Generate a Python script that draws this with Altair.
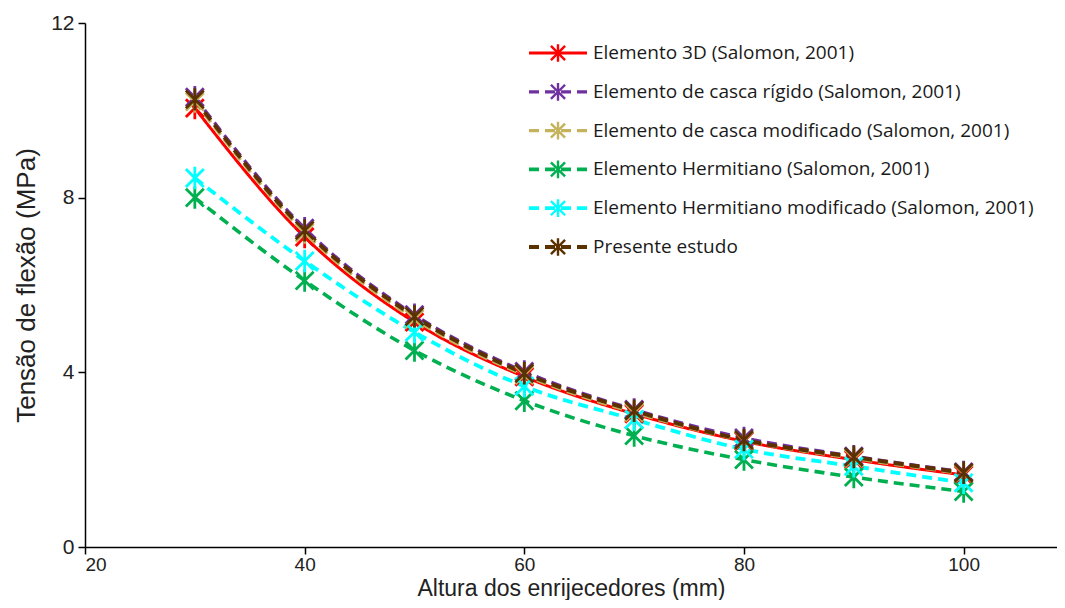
import altair as alt
import pandas as pd

# ---- data ----
altura = [30, 40, 50, 60, 70, 80, 90, 100]
series_names = [
    "Elemento 3D (Salomon, 2001)",
    "Elemento de casca rígido (Salomon, 2001)",
    "Elemento de casca modificado (Salomon, 2001)",
    "Elemento Hermitiano (Salomon, 2001)",
    "Elemento Hermitiano modificado (Salomon, 2001)",
    "Presente estudo",
]
elem_3d = [10.05, 7.10, 5.15, 3.90, 3.05, 2.42, 2.00, 1.65]
casca_rigido = [10.30, 7.30, 5.32, 4.02, 3.15, 2.50, 2.08, 1.72]
casca_modificado = [10.20, 7.20, 5.22, 3.94, 3.08, 2.44, 2.03, 1.68]
hermitiano = [8.00, 6.10, 4.50, 3.35, 2.55, 2.00, 1.60, 1.27]
hermitiano_mod = [8.45, 6.55, 4.92, 3.68, 2.92, 2.24, 1.85, 1.47]
presente = [10.25, 7.25, 5.28, 3.98, 3.12, 2.45, 2.06, 1.70]
all_values = [elem_3d, casca_rigido, casca_modificado, hermitiano, hermitiano_mod, presente]

x_ticks = [20, 40, 60, 80, 100]
y_ticks = [0, 4, 8, 12]

# ---- styles ----
colors = ["#FF0000", "#7030A0", "#C4B35C", "#00B050", "#00FFFF", "#5C3100"]
dashes = [[1, 0], [10, 6], [10, 6], [10, 6], [10, 6], [10, 6]]
widths = [3, 4, 4, 4, 4, 4]
STAR = "M-1,-1L1,1M-1,1L1,-1M0,-1.25L0,1.25"

rows = []
for i, (name, vals) in enumerate(zip(series_names, all_values)):
    for xv, yv in zip(altura, vals):
        rows.append({"serie": name, "altura": xv, "tensao": yv, "ordem": i})
df = pd.DataFrame(rows)
legend_df = pd.DataFrame({"serie": series_names, "rank": list(range(len(series_names)))})

color_scale = alt.Scale(domain=series_names, range=colors)
dash_scale = alt.Scale(domain=series_names, range=dashes)
width_scale = alt.Scale(domain=series_names, range=widths)

x_enc = alt.X(
    "altura:Q",
    scale=alt.Scale(domain=[20, 108.5], nice=False, zero=False),
    axis=alt.Axis(values=x_ticks, title="Altura dos enrijecedores (mm)",
                  titlePadding=3, labelPadding=1, titleFontSize=23, labelFontSize=19),
)
y_enc = alt.Y(
    "tensao:Q",
    scale=alt.Scale(domain=[0, 12], nice=False),
    axis=alt.Axis(values=y_ticks, title="Tensão de flexão (MPa)",
                  titlePadding=11, labelPadding=4, titleFontSize=26, labelFontSize=21),
)
col = alt.Color("serie:N", scale=color_scale, legend=None)
dsh = alt.StrokeDash("serie:N", scale=dash_scale, legend=None)
wid = alt.StrokeWidth("serie:N", scale=width_scale, legend=None)

lines = alt.Chart(df).mark_line(interpolate="monotone").encode(
    x=x_enc, y=y_enc, color=col, strokeDash=dsh, strokeWidth=wid, detail="serie:N"
)
points = alt.Chart(df).mark_point(shape=STAR, size=320, filled=False, strokeWidth=2.8, opacity=1).encode(
    x=x_enc, y=y_enc, color=col
)
data_layer = alt.layer(lines, points)

leg_y = alt.Y("rank:Q", scale=alt.Scale(domain=[0, 5], range=[30, 224]), axis=None)
leg_lines = alt.Chart(legend_df).mark_rule().encode(
    x=alt.value(444), x2=alt.value(502), y=leg_y, color=col, strokeDash=dsh, strokeWidth=wid
)
leg_pts = alt.Chart(legend_df).mark_point(shape=STAR, size=200, filled=False, strokeWidth=2.4, opacity=1).encode(
    x=alt.value(473), y=leg_y, color=col
)
leg_text = alt.Chart(legend_df).mark_text(
    align="left", baseline="middle", font="Open Sans", fontSize=19, color="#1a1a1a"
).encode(x=alt.value(508), y=leg_y, text="serie:N")
legend_layer = alt.layer(leg_lines, leg_pts, leg_text)

chart = (
    alt.layer(data_layer, legend_layer)
    .resolve_scale(y="independent")
    .properties(
        width=1049,
        height=592,
        autosize=alt.AutoSizeParams(type="fit", contains="padding"),
        padding={"left": 5, "top": 4, "right": 0, "bottom": 0},
    )
    .configure_view(stroke=None)
    .configure_axis(
        grid=False,
        domainColor="#000000",
        domainWidth=1.5,
        tickColor="#000000",
        tickWidth=1.5,
        tickSize=7,
        labelColor="#222222",
        labelFont="Liberation Sans",
        titleFont="Liberation Sans",
        titleFontWeight="normal",
        titleColor="#222222",
    )
)

chart.save("out.html", embed_options={"renderer": "svg", "actions": False})
